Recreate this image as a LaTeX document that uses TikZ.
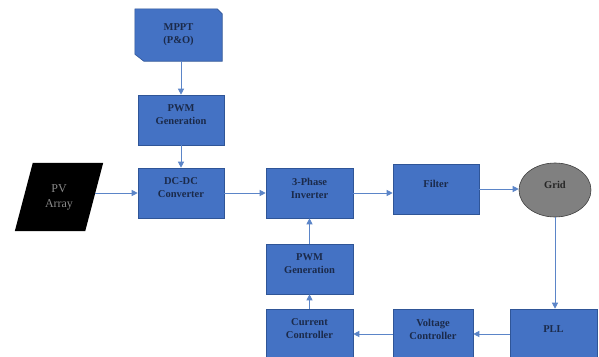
\documentclass[tikz,border=0pt]{standalone}
\usepackage{fontspec}
\setmainfont{Liberation Serif}
\usetikzlibrary{arrows.meta,shapes.geometric}
\pgfdeclarelayer{bg}
\pgfsetlayers{bg,main}
\definecolor{boxfill}{HTML}{4472C4}
\definecolor{boxline}{HTML}{2F5597}
\definecolor{boxtext}{HTML}{1B2A4A}
\definecolor{wire}{HTML}{5B85C8}
\definecolor{gridfill}{HTML}{808080}
\definecolor{gridline}{HTML}{3F3F3F}
\definecolor{pvtext}{HTML}{8A8A8A}
\tikzset{
  block/.style={rectangle, fill=boxfill, draw=boxline, line width=0.6pt,
    inner sep=0pt, minimum height=50pt, minimum width=86pt},
  caption/.style={font=\fontsize{10.5}{13}\selectfont\bfseries, text=boxtext,
    align=center, inner sep=0pt},
  raised/.style={caption, yshift=5pt},
  flow/.style={draw=wire, line width=0.8pt, -{Triangle[length=6pt,width=6pt]}},
}
\begin{document}
\begin{tikzpicture}[x=1pt, y=-1pt]
\begin{pgfonlayer}{bg}
  \path[fill=white] (0,0) rectangle (599,356);
\end{pgfonlayer}
\path[use as bounding box] (0,0) rectangle (599,356);
\clip (0,0) rectangle (599,356);

% MPPT block with snipped corners
\node[rectangle, inner sep=0pt, minimum width=87pt, minimum height=52pt,
      caption] (mppt) at (178.5,35) {MPPT\\(P\&O)};
\begin{pgfonlayer}{bg}
  \filldraw[fill=boxfill, draw=boxline, line width=0.6pt]
    (mppt.north west) -- ([xshift=-5pt]mppt.north east)
    -- ([yshift=-5pt]mppt.north east) -- (mppt.south east)
    -- ([xshift=9pt]mppt.south west) -- ([yshift=7pt]mppt.south west)
    -- cycle;
\end{pgfonlayer}

\node[block, label={[raised]center:{PWM\\Generation}}] (pwm1) at (181,120) {};
\node[block, label={[raised]center:{DC-DC\\Converter}}] (dcdc) at (181,193) {};

% PV array parallelogram
\node[rectangle, inner sep=0pt, minimum width=88pt, minimum height=68pt,
      align=center, text=pvtext, font=\fontsize{12}{15}\selectfont] (pv) at (59,197) {PV\\Array};
\begin{pgfonlayer}{bg}
  \fill[black] (pv.south west) -- ([xshift=-18pt]pv.south east)
    -- (pv.north east) -- ([xshift=18pt]pv.north west) -- cycle;
\end{pgfonlayer}

\node[block, minimum width=87pt, label={[raised]center:{3-Phase\\Inverter}}] (inv) at (309.5,193) {};
\node[block, label={[raised]center:{Filter}}] (filt) at (436,189) {};
\node[ellipse, fill=gridfill, draw=gridline, line width=0.6pt, inner sep=0pt,
      minimum width=72pt, minimum height=54pt,
      label={[raised, text=black!85]center:{Grid}}] (grid) at (555,190) {};

\node[block, minimum width=87pt, label={[raised]center:{PWM\\Generation}}] (pwm2) at (309.5,269) {};
\node[block, minimum width=87pt, label={[raised]center:{Current\\Controller}}] (cur) at (309.5,334) {};
\node[block, minimum width=80pt, label={[raised]center:{Voltage\\Controller}}] (volt) at (433,334) {};
\node[block, minimum width=87pt, label={[raised]center:{PLL}}] (pll) at (553.5,334) {};

% signal flow
\draw[flow] (mppt.south -| pwm1.north) -- (pwm1.north);
\draw[flow] (pwm1) -- (dcdc);
\draw[flow] ([xshift=-8pt]pv.east |- dcdc.west) -- (dcdc.west);
\draw[flow] (dcdc) -- (inv);
\draw[flow] (inv.east) -- (inv.east -| filt.west);
\draw[flow] (filt.east) -- (filt.east -| grid.west);
\draw[flow] (grid.south) -- (grid.south |- pll.north);
\draw[flow] (pll) -- (volt);
\draw[flow] (volt) -- (cur);
\draw[flow] (cur) -- (pwm2);
\draw[flow] (pwm2) -- (inv);
\end{tikzpicture}
\end{document}
